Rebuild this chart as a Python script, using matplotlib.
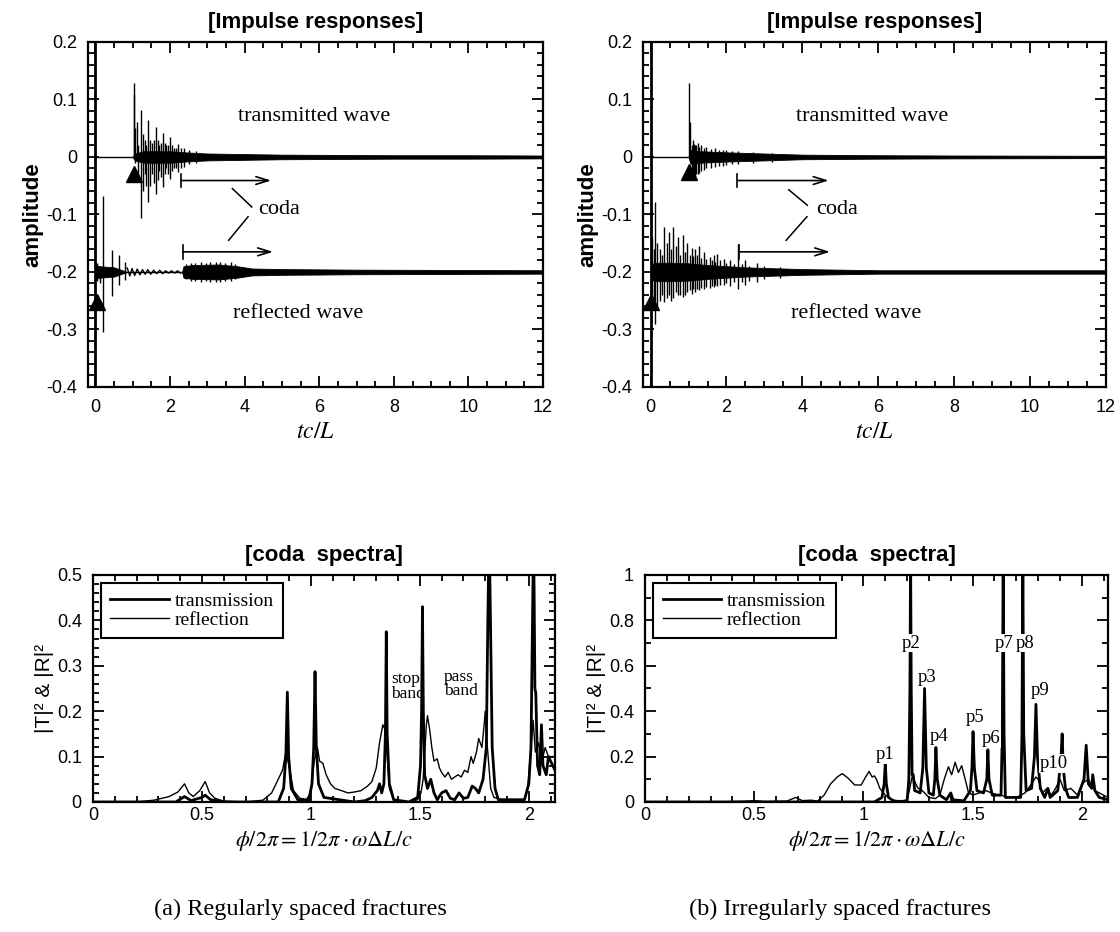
import matplotlib
matplotlib.use("Agg")
import matplotlib.pyplot as plt
import numpy as np
from matplotlib.ticker import MultipleLocator, FuncFormatter

plt.rcParams['axes.unicode_minus'] = False
plt.rcParams['mathtext.fontset'] = 'stix'

SANS = ['Liberation Sans', 'DejaVu Sans']
SERIF = ['Liberation Serif', 'DejaVu Serif']

# ---------------- impulse responses: (a) regular ----------------
# transmitted wave (offset 0)
a_tr_spike_t = [1.02, 1.04, 1.07, 1.10, 1.15, 1.23, 1.28, 1.32, 1.36, 1.42, 1.47, 1.52, 1.56, 1.62, 1.67,
                1.71, 1.75, 1.80, 1.86, 1.90, 1.95, 2.00, 2.05, 2.10, 2.15, 2.20, 2.28, 2.38, 2.50, 2.70]
a_tr_spike_hi = [0.11, 0.129, 0.05, 0.06, 0.02, 0.081, 0.04, 0.03, 0.02, 0.064, 0.03, 0.025, 0.03, 0.052, 0.03,
                 0.02, 0.025, 0.041, 0.025, 0.02, 0.02, 0.035, 0.02, 0.015, 0.015, 0.023, 0.015, 0.015, 0.012, 0.01]
a_tr_spike_lo = [0.0, 0.0, -0.01, -0.005, -0.04, -0.107, -0.06, -0.03, -0.05, -0.078, -0.05, -0.03, -0.045, -0.064, -0.04,
                 -0.025, -0.035, -0.052, -0.03, -0.02, -0.03, -0.038, -0.025, -0.02, -0.02, -0.026, -0.02, -0.017, -0.012, -0.01]
a_tr_env_t = [1.0, 1.05, 1.3, 1.6, 2.0, 2.4, 3.0, 4.0, 5.0, 6.5, 8.0, 10.0, 12.0]
a_tr_env = [0.0, 0.006, 0.01, 0.01, 0.01, 0.008, 0.006, 0.005, 0.004, 0.0035, 0.003, 0.003, 0.0025]
# reflected wave (offset -0.2)
a_rf_spike_t = [0.05, 0.12, 0.21, 0.45, 0.62, 0.78,
                2.42, 2.55, 2.68, 2.82, 2.95, 3.08, 3.22, 3.35, 3.48, 3.62, 3.75]
a_rf_spike_hi = [-0.185, -0.19, -0.068, -0.162, -0.171, -0.183,
                 -0.187, -0.184, -0.185, -0.183, -0.184, -0.183, -0.182, -0.183, -0.184, -0.183, -0.186]
a_rf_spike_lo = [-0.215, -0.22, -0.304, -0.241, -0.223, -0.214,
                 -0.213, -0.216, -0.215, -0.217, -0.216, -0.217, -0.218, -0.217, -0.216, -0.215, -0.213]
a_rf_wig_t = [0.85, 0.92, 0.98, 1.05, 1.12, 1.19, 1.26, 1.33, 1.40, 1.48, 1.56, 1.64, 1.72, 1.80, 1.88, 1.96, 2.04, 2.12, 2.20, 2.28]
a_rf_wig_y = [-0.193, -0.207, -0.194, -0.206, -0.195, -0.205, -0.196, -0.204, -0.196, -0.204, -0.197, -0.203, -0.197, -0.203, -0.198, -0.202, -0.198, -0.202, -0.198, -0.202]
a_rf_env_t = [0.0, 0.1, 0.5, 0.85, 2.32, 2.36, 2.6, 3.3, 3.8, 4.2, 5.0, 7.0, 12.0]
a_rf_env = [0.012, 0.01, 0.008, 0.0, 0.0, 0.01, 0.012, 0.013, 0.01, 0.006, 0.005, 0.004, 0.003]

# ---------------- impulse responses: (b) irregular ----------------
b_tr_spike_t = [1.01, 1.04, 1.08, 1.11, 1.14, 1.17, 1.20, 1.24, 1.28, 1.33, 1.40, 1.47, 1.60, 1.70, 1.80,
                1.90, 2.00, 2.15, 2.30, 2.70, 3.20]
b_tr_spike_hi = [0.129, 0.06, 0.02, 0.03, 0.023, 0.02, 0.02, 0.025, 0.018, 0.02, 0.015, 0.018, 0.014, 0.015, 0.012,
                 0.012, 0.012, 0.01, 0.01, 0.008, 0.007]
b_tr_spike_lo = [0.0, 0.0, -0.035, -0.03, -0.04, -0.035, -0.03, -0.03, -0.028, -0.025, -0.022, -0.02, -0.02, -0.018, -0.016,
                 -0.015, -0.014, -0.012, -0.012, -0.01, -0.008]
b_tr_env_t = [1.0, 1.05, 1.3, 2.0, 3.0, 4.0, 6.0, 8.0, 12.0]
b_tr_env = [0.0, 0.012, 0.01, 0.008, 0.006, 0.004, 0.003, 0.0025, 0.002]
b_rf_spike_t = [0.05, 0.08, 0.12, 0.18, 0.25, 0.30, 0.36, 0.42, 0.48, 0.54, 0.60, 0.66, 0.72, 0.78, 0.85, 0.91,
                0.97, 1.03, 1.09, 1.13, 1.18, 1.23, 1.28, 1.34, 1.40, 1.47, 1.56, 1.61, 1.66, 1.70, 1.75, 1.84,
                1.94, 2.00, 2.10, 2.20, 2.30, 2.40, 2.50, 2.60, 2.80, 3.00, 3.40]
b_rf_spike_hi = [-0.14, -0.16, -0.078, -0.15, -0.16, -0.17, -0.122, -0.15, -0.13, -0.16, -0.122, -0.155, -0.14, -0.17,
                 -0.136, -0.165, -0.15, -0.17, -0.159, -0.172, -0.16, -0.17, -0.154, -0.175, -0.165, -0.178, -0.174,
                 -0.18, -0.17, -0.182, -0.168, -0.18, -0.178, -0.185, -0.18, -0.186, -0.152, -0.187, -0.18, -0.19,
                 -0.185, -0.19, -0.192]
b_rf_spike_lo = [-0.26, -0.25, -0.29, -0.26, -0.25, -0.24, -0.252, -0.245, -0.24, -0.25, -0.245, -0.235, -0.24, -0.24,
                 -0.243, -0.24, -0.235, -0.232, -0.238, -0.23, -0.235, -0.23, -0.232, -0.228, -0.23, -0.226, -0.228,
                 -0.225, -0.226, -0.222, -0.225, -0.222, -0.222, -0.22, -0.224, -0.218, -0.229, -0.218, -0.222,
                 -0.215, -0.218, -0.213, -0.21]
b_rf_env_t = [0.0, 0.1, 0.5, 1.0, 1.5, 2.0, 2.5, 3.0, 3.5, 4.0, 5.0, 6.0, 8.0, 12.0]
b_rf_env = [0.012, 0.016, 0.016, 0.015, 0.012, 0.01, 0.008, 0.007, 0.006, 0.005, 0.004, 0.003, 0.003, 0.003]

# ---------------- coda spectra: (a) regular ----------------
a_refl_x = [0.0, 0.2, 0.28, 0.35, 0.39, 0.42, 0.44, 0.46, 0.49, 0.515, 0.535, 0.56, 0.6, 0.7, 0.78, 0.82, 0.85,
            0.87, 0.885, 0.90, 0.92, 0.95, 0.98, 1.0, 1.015, 1.03, 1.04, 1.055, 1.07, 1.09, 1.11, 1.14, 1.17,
            1.2, 1.23, 1.26, 1.28, 1.3, 1.315, 1.33, 1.34, 1.35, 1.36, 1.38, 1.45, 1.49, 1.505, 1.515, 1.53,
            1.535, 1.545, 1.555, 1.565, 1.58, 1.59, 1.6, 1.615, 1.63, 1.645, 1.66, 1.675, 1.69, 1.705, 1.72,
            1.735, 1.745, 1.76, 1.77, 1.785, 1.795, 1.80, 1.81, 1.825, 1.84, 1.9, 1.98, 1.995, 2.01, 2.02,
            2.03, 2.045, 2.06, 2.075, 2.09, 2.12]
a_refl_y = [0.0, 0.0, 0.004, 0.012, 0.022, 0.04, 0.02, 0.012, 0.025, 0.045, 0.02, 0.008, 0.002, 0.0, 0.004, 0.02, 0.05,
            0.07, 0.11, 0.08, 0.025, 0.008, 0.006, 0.02, 0.09, 0.12, 0.09, 0.085, 0.06, 0.04, 0.03, 0.025, 0.02,
            0.022, 0.025, 0.035, 0.045, 0.075, 0.13, 0.17, 0.16, 0.1, 0.03, 0.005, 0.0, 0.005, 0.02, 0.05, 0.17,
            0.19, 0.16, 0.12, 0.09, 0.095, 0.075, 0.065, 0.055, 0.065, 0.05, 0.055, 0.06, 0.055, 0.07, 0.065,
            0.1, 0.085, 0.11, 0.14, 0.12, 0.17, 0.2, 0.12, 0.03, 0.01, 0.002, 0.005, 0.03, 0.12, 0.18,
            0.11, 0.13, 0.09, 0.12, 0.1, 0.1]
a_tran_x = [0.0, 0.38, 0.42, 0.45, 0.5, 0.515, 0.54, 0.6, 0.85, 0.875, 0.885, 0.892, 0.898, 0.91, 0.94, 0.99,
            1.005, 1.013, 1.019, 1.025, 1.035, 1.06, 1.2, 1.25, 1.28, 1.305, 1.315, 1.325, 1.335, 1.342, 1.346,
            1.35, 1.36, 1.38, 1.45, 1.49, 1.503, 1.508, 1.512, 1.516, 1.522, 1.535, 1.55, 1.565, 1.58, 1.6,
            1.62, 1.64, 1.66, 1.68, 1.70, 1.72, 1.74, 1.755, 1.77, 1.79, 1.805, 1.812, 1.818, 1.824, 1.832,
            1.845, 1.86, 1.98, 2.0, 2.01, 2.017, 2.022, 2.028, 2.032, 2.04, 2.05, 2.058, 2.065, 2.08, 2.09, 2.12]
a_tran_y = [0.0, 0.0, 0.012, 0.003, 0.01, 0.015, 0.005, 0.0, 0.0, 0.03, 0.1, 0.242, 0.1, 0.03, 0.005, 0.003,
            0.04, 0.12, 0.287, 0.12, 0.04, 0.01, 0.0, 0.003, 0.01, 0.025, 0.04, 0.02, 0.04, 0.15, 0.375,
            0.15, 0.04, 0.005, 0.0, 0.01, 0.08, 0.2, 0.43, 0.2, 0.06, 0.03, 0.05, 0.02, 0.005, 0.02,
            0.025, 0.008, 0.005, 0.02, 0.008, 0.01, 0.035, 0.03, 0.02, 0.05, 0.12, 0.4, 0.6, 0.4, 0.12,
            0.03, 0.005, 0.005, 0.04, 0.12, 0.4, 0.6, 0.25, 0.24, 0.08, 0.06, 0.17, 0.08, 0.06, 0.1, 0.07]

# ---------------- coda spectra: (b) irregular ----------------
b_refl_x = [0.0, 0.3, 0.45, 0.5, 0.55, 0.65, 0.69, 0.72, 0.76, 0.79, 0.82, 0.85, 0.88, 0.903, 0.93, 0.96, 0.99,
            1.01, 1.026, 1.04, 1.05, 1.06, 1.075, 1.1, 1.13, 1.17, 1.2, 1.21, 1.225, 1.235, 1.25, 1.27, 1.3,
            1.33, 1.35, 1.37, 1.389, 1.404, 1.42, 1.435, 1.45, 1.466, 1.48, 1.5, 1.53, 1.56, 1.6, 1.63, 1.66,
            1.7, 1.74, 1.77, 1.79, 1.8, 1.82, 1.84, 1.86, 1.88, 1.9, 1.92, 1.95, 1.98, 2.0, 2.03, 2.06, 2.12]
b_refl_y = [0.0, 0.0, 0.003, 0.006, 0.002, 0.004, 0.02, 0.006, 0.008, 0.004, 0.03, 0.08, 0.11, 0.125, 0.105, 0.075, 0.075,
            0.11, 0.135, 0.11, 0.115, 0.1, 0.06, 0.03, 0.01, 0.003, 0.01, 0.05, 0.12, 0.09, 0.06, 0.05, 0.02,
            0.015, 0.03, 0.1, 0.155, 0.12, 0.175, 0.13, 0.16, 0.1, 0.045, 0.03, 0.04, 0.05, 0.035, 0.03, 0.02,
            0.02, 0.04, 0.08, 0.11, 0.1, 0.04, 0.06, 0.03, 0.06, 0.1, 0.05, 0.06, 0.03, 0.08, 0.1, 0.05, 0.02]
b_tran_x = [0.0, 1.05, 1.085, 1.095, 1.10, 1.105, 1.115, 1.14, 1.2, 1.208, 1.213, 1.216, 1.219, 1.223, 1.228,
            1.235, 1.26, 1.272, 1.28, 1.288, 1.30, 1.32, 1.327, 1.332, 1.338, 1.35, 1.38, 1.40, 1.41, 1.46,
            1.49, 1.497, 1.502, 1.508, 1.52, 1.55, 1.565, 1.57, 1.575, 1.59, 1.63, 1.636, 1.64, 1.644, 1.65,
            1.72, 1.726, 1.73, 1.734, 1.745, 1.77, 1.783, 1.79, 1.797, 1.81, 1.83, 1.845, 1.855, 1.89, 1.905,
            1.91, 1.915, 1.925, 1.94, 1.98, 2.01, 2.02, 2.03, 2.045, 2.05, 2.06, 2.08, 2.12]
b_tran_y = [0.0, 0.0, 0.02, 0.08, 0.17, 0.08, 0.02, 0.003, 0.003, 0.1, 0.5, 1.1, 0.5, 0.12, 0.12,
            0.05, 0.04, 0.15, 0.50, 0.15, 0.04, 0.03, 0.1, 0.24, 0.1, 0.03, 0.01, 0.04, 0.01, 0.005,
            0.05, 0.15, 0.31, 0.15, 0.05, 0.04, 0.1, 0.23, 0.1, 0.03, 0.03, 0.3, 1.1, 0.3, 0.02,
            0.02, 0.3, 1.1, 0.3, 0.05, 0.06, 0.2, 0.43, 0.2, 0.06, 0.02, 0.06, 0.02, 0.05, 0.2,
            0.30, 0.15, 0.06, 0.02, 0.02, 0.1, 0.25, 0.08, 0.06, 0.12, 0.05, 0.02, 0.01]

b_peak_labels = ['p1', 'p2', 'p3', 'p4', 'p5', 'p6', 'p7', 'p8', 'p9', 'p10']
b_peak_lx = [1.10, 1.218, 1.29, 1.345, 1.51, 1.585, 1.645, 1.74, 1.81, 1.87]
b_peak_ly = [0.21, 0.70, 0.55, 0.29, 0.37, 0.28, 0.70, 0.70, 0.49, 0.17]

fig = plt.figure(figsize=(11.2, 9.32), dpi=100)

def style_axes(ax, xmaj, xmin, ymaj, ymin, xpad):
    for s in ax.spines.values():
        s.set_linewidth(1.6)
    ax.xaxis.set_major_locator(MultipleLocator(xmaj))
    ax.xaxis.set_minor_locator(MultipleLocator(xmin))
    ax.yaxis.set_major_locator(MultipleLocator(ymaj))
    ax.yaxis.set_minor_locator(MultipleLocator(ymin))
    ax.tick_params(which='both', direction='in', top=True, right=True, width=1.3)
    ax.tick_params(which='major', length=8)
    ax.tick_params(which='minor', length=4)
    ax.tick_params(axis='y', which='major', pad=8)
    ax.tick_params(axis='x', which='major', pad=xpad)
    for lab in ax.get_xticklabels() + ax.get_yticklabels():
        lab.set_family(SANS)
        lab.set_fontsize(13)

def fmt(v, pos):
    s = ('%.1f' % v)
    if abs(v) < 1e-9:
        return '0'
    if s.endswith('.0'):
        s = s[:-2]
    return s

def impulse(ax, tr, rf):
    ax.set_xlim(-0.2, 12)
    ax.set_ylim(-0.4, 0.2)
    (tr_t, tr_hi, tr_lo, tr_et, tr_e), (rf_t, rf_hi, rf_lo, rf_et, rf_e, wig) = tr, rf
    # transmitted
    ax.plot([0, tr_et[0]], [0, 0], color='black', lw=1.0)
    ax.fill_between(tr_et, [-e for e in tr_e], tr_e, color='black', lw=0.6)
    ax.plot([tr_et[-2], 12], [0, 0], color='black', lw=1.0)
    ax.vlines(tr_t, tr_lo, tr_hi, color='black', lw=1.0)
    # reflected
    ax.vlines([0.0], -0.45, 0.25, color='black', lw=2.0)
    ax.fill_between(rf_et, [-0.2 - e for e in rf_e], [-0.2 + e for e in rf_e], color='black', lw=0.6)
    ax.plot([0, 12], [-0.2, -0.2], color='black', lw=1.0)
    if wig is not None:
        ax.plot(wig[0], wig[1], color='black', lw=1.0)
    ax.vlines(rf_t, rf_lo, rf_hi, color='black', lw=1.0)
    style_axes(ax, 2, 0.5, 0.1, 0.02, 9)
    ax.yaxis.set_major_formatter(FuncFormatter(fmt))
    ax.set_title('[Impulse responses]', fontsize=16, fontweight='bold', family=SANS, pad=10)
    ax.set_ylabel('amplitude', fontsize=16, fontweight='bold', family=SANS, labelpad=2)
    ax.set_xlabel('$tc/L$', fontsize=17, labelpad=2)

def annotate_impulse(ax, tri, ar_up, ar_lo, lines):
    ax.plot(tri[0], tri[1], linestyle='none', marker='^', color='black', markersize=11)
    ax.text(5.85, 0.07, 'transmitted wave', family=SERIF, fontsize=16, ha='center', va='center')
    ax.text(5.42, -0.272, 'reflected wave', family=SERIF, fontsize=16, ha='center', va='center')
    ax.text(4.92, -0.092, 'coda', family=SERIF, fontsize=16, ha='center', va='center')
    for (x0, x1, y) in (ar_up, ar_lo):
        ax.annotate('', xy=(x1, y), xytext=(x0, y),
                    arrowprops=dict(arrowstyle='->,head_length=0.9,head_width=0.28',
                                    lw=1.2, color='black', shrinkA=0, shrinkB=0))
        ax.plot([x0, x0], [y - 0.012, y + 0.012], color='black', lw=1.2)
    for (xs, ys) in lines:
        ax.plot(xs, ys, color='black', lw=1.1)

ax1 = fig.add_axes([0.0786, 0.5848, 0.4063, 0.3702])
impulse(ax1, (a_tr_spike_t, a_tr_spike_hi, a_tr_spike_lo, a_tr_env_t, a_tr_env),
        (a_rf_spike_t, a_rf_spike_hi, a_rf_spike_lo, a_rf_env_t, a_rf_env, (a_rf_wig_t, a_rf_wig_y)))
annotate_impulse(ax1, ([1.02, 0.05], [-0.029, -0.252]), (2.29, 4.71, -0.041), (2.34, 4.76, -0.165),
                 [([3.67, 4.19], [-0.055, -0.087]), ([4.09, 3.57], [-0.104, -0.145])])

ax2 = fig.add_axes([0.5741, 0.5848, 0.4134, 0.3702])
impulse(ax2, (b_tr_spike_t, b_tr_spike_hi, b_tr_spike_lo, b_tr_env_t, b_tr_env),
        (b_rf_spike_t, b_rf_spike_hi, b_rf_spike_lo, b_rf_env_t, b_rf_env, None))
annotate_impulse(ax2, ([1.01, 0.02], [-0.026, -0.252]), (2.29, 4.69, -0.041), (2.32, 4.73, -0.165),
                 [([3.64, 4.13], [-0.057, -0.084]), ([4.12, 3.57], [-0.104, -0.145])])

def spectra(ax, rx, ry, tx, ty, ylim, ymaj, ymin):
    ax.plot(tx, ty, color='black', lw=2.0, label='transmission')
    ax.plot(rx, ry, color='black', lw=1.0, label='reflection')
    ax.set_xlim(0, 2.12)
    ax.set_ylim(0, ylim)
    style_axes(ax, 0.5, 0.1, ymaj, ymin, 3.5)
    ax.xaxis.set_major_formatter(FuncFormatter(fmt))
    ax.yaxis.set_major_formatter(FuncFormatter(fmt))
    ax.set_title('[coda  spectra]', fontsize=16, fontweight='bold', family=SANS, pad=10)
    ax.set_ylabel('|T|\u00b2 & |R|\u00b2', fontsize=15, family=SANS, labelpad=2)
    ax.set_xlabel('$\\phi/2\\pi = 1/2\\pi \\cdot \\omega\\Delta L/c$', fontsize=16, labelpad=4)
    leg = ax.legend(loc='upper left', prop={'family': SERIF, 'size': 14}, handlelength=3.0,
                    fancybox=False, framealpha=1, edgecolor='black', borderaxespad=0.4,
                    labelspacing=0.05, handletextpad=0.3, borderpad=0.5)
    leg.get_frame().set_linewidth(1.5)

ax3 = fig.add_axes([0.0830, 0.1395, 0.4125, 0.2436])
spectra(ax3, a_refl_x, a_refl_y, a_tran_x, a_tran_y, 0.5, 0.1, 0.02)
ax3.text(1.37, 0.255, 'stop\nband', family=SERIF, fontsize=12.5, ha='left', va='center', linespacing=0.9)
ax3.text(1.61, 0.26, 'pass\nband', family=SERIF, fontsize=12.5, ha='left', va='center', linespacing=0.9)

ax4 = fig.add_axes([0.5759, 0.1395, 0.4134, 0.2436])
spectra(ax4, b_refl_x, b_refl_y, b_tran_x, b_tran_y, 1.0, 0.2, 0.1)
for lab, lx, ly in zip(b_peak_labels, b_peak_lx, b_peak_ly):
    ax4.text(lx, ly, lab, family=SERIF, fontsize=13.5, ha='center', va='center', zorder=5,
             bbox=dict(facecolor='white', edgecolor='none', pad=0.5))

fig.text(0.268, 0.024, '(a) Regularly spaced fractures', family=SERIF, fontsize=17.5, ha='center', va='center')
fig.text(0.75, 0.024, '(b) Irregularly spaced fractures', family=SERIF, fontsize=17.5, ha='center', va='center')

fig.savefig('out.png', dpi=100)
